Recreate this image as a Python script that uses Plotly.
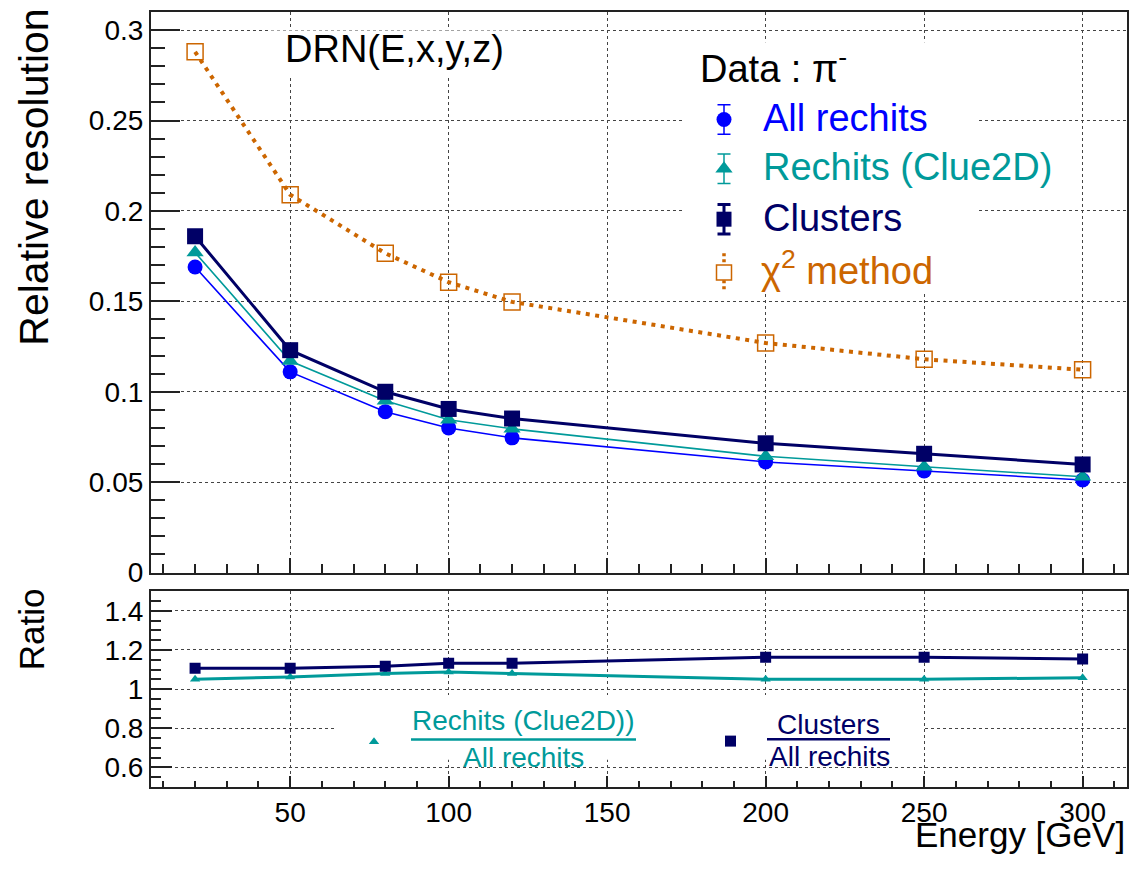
import plotly.graph_objects as go

# Beam energies [GeV]
energy = [20, 50, 80, 100, 120, 200, 250, 300]

# Relative energy resolution for pi- data
res_all_rechits = [0.169, 0.111, 0.089, 0.080, 0.0745, 0.0612, 0.0562, 0.0512]
res_clue2d = [0.177, 0.117, 0.095, 0.0845, 0.0795, 0.0643, 0.0585, 0.0530]
res_clusters = [0.186, 0.123, 0.100, 0.0905, 0.0852, 0.0715, 0.0657, 0.0598]
res_chi2 = [0.288, 0.209, 0.1766, 0.1606, 0.1497, 0.1270, 0.1180, 0.1122]

# Ratios with respect to "All rechits"
ratio_clue2d = [1.050, 1.062, 1.080, 1.087, 1.080, 1.050, 1.050, 1.058]
ratio_clusters = [1.107, 1.107, 1.117, 1.132, 1.132, 1.163, 1.163, 1.154]

FONT = "Liberation Sans, Arial, Helvetica, sans-serif"
BLUE = "#0000ff"
TEAL = "#009a9a"
NAVY = "#000066"
ORANGE = "#cc6600"
GRID = "#444444"
AXC = "#222222"

W, H = 1129, 870

# Pixel frame of the two pads
TOP = dict(l=150.7, r=1127.0, t=12.3, b=583.3)
RAT = dict(l=150.7, r=1127.0, t=602.3, b=801.7)


def xdom(p):
    return [p["l"] / W, p["r"] / W]


def ydom(p):
    return [1 - p["b"] / H, 1 - p["t"] / H]


fig = go.Figure()

# ---- resolution pad ----
fig.add_trace(go.Scatter(
    x=energy, y=res_chi2, mode="lines+markers", xaxis="x", yaxis="y",
    line=dict(color=ORANGE, width=4, dash="4px,5.5px"),
    marker=dict(symbol="square-open", size=16, color=ORANGE, line=dict(width=1.5, color=ORANGE)),
    showlegend=False,
))
fig.add_trace(go.Scatter(
    x=energy, y=res_all_rechits, mode="lines+markers", xaxis="x", yaxis="y",
    line=dict(color=BLUE, width=1.6),
    marker=dict(symbol="circle", size=15, color=BLUE),
    showlegend=False,
))
fig.add_trace(go.Scatter(
    x=energy, y=res_clue2d, mode="lines+markers", xaxis="x", yaxis="y",
    line=dict(color=TEAL, width=1.6),
    marker=dict(symbol="triangle-up", size=15, color=TEAL),
    showlegend=False,
))
fig.add_trace(go.Scatter(
    x=energy, y=res_clusters, mode="lines+markers", xaxis="x", yaxis="y",
    line=dict(color=NAVY, width=3),
    marker=dict(symbol="square", size=16, color=NAVY),
    showlegend=False,
))

# ---- ratio pad ----
fig.add_trace(go.Scatter(
    x=energy, y=ratio_clue2d, mode="lines+markers", xaxis="x2", yaxis="y2",
    line=dict(color=TEAL, width=3),
    marker=dict(symbol="triangle-up", size=9, color=TEAL),
    showlegend=False,
))
fig.add_trace(go.Scatter(
    x=energy, y=ratio_clusters, mode="lines+markers", xaxis="x2", yaxis="y2",
    line=dict(color=NAVY, width=3),
    marker=dict(symbol="square", size=11, color=NAVY),
    showlegend=False,
))

# ---- legend symbols, drawn on a pixel-coordinate overlay ----
LX = 724
legend_rows = [
    ("All rechits", BLUE, "circle", 15, 1.5, 121.7),
    ("Rechits (Clue2D)", TEAL, "triangle-up", 15, 1.5, 172.0),
    ("Clusters", NAVY, "square", 15, 3, 223.3),
]
for label, col, sym, size, thick, yy in legend_rows:
    fig.add_trace(go.Scatter(
        x=[LX], y=[yy], mode="markers", xaxis="x3", yaxis="y3",
        marker=dict(symbol=sym, size=size, color=col),
        error_y=dict(type="constant", value=15, color=col, thickness=thick, width=6.5),
        showlegend=False, hoverinfo="skip",
    ))
# chi2 entry: open square with dotted bars
fig.add_trace(go.Scatter(
    x=[LX, LX, None, LX, LX], y=[258, 270, None, 285.5, 297], mode="lines",
    xaxis="x3", yaxis="y3", line=dict(color=ORANGE, width=3.5, dash="3px,3px"),
    showlegend=False, hoverinfo="skip",
))
fig.add_trace(go.Scatter(
    x=[LX], y=[277.7], mode="markers", xaxis="x3", yaxis="y3",
    marker=dict(symbol="square-open", size=15, color=ORANGE, line=dict(width=1.5, color=ORANGE)),
    showlegend=False, hoverinfo="skip",
))
# ratio legend symbols
fig.add_trace(go.Scatter(
    x=[374], y=[755.7], mode="markers", xaxis="x3", yaxis="y3",
    marker=dict(symbol="triangle-up", size=9, color=TEAL),
    showlegend=False, hoverinfo="skip",
))
fig.add_trace(go.Scatter(
    x=[730.5], y=[755], mode="markers", xaxis="x3", yaxis="y3",
    marker=dict(symbol="square", size=11, color=NAVY),
    showlegend=False, hoverinfo="skip",
))

# white panes behind text boxes (hide gridlines)
shapes = []
for x0, y0, x1, y1 in [(270, 31, 520, 78), (685, 43, 979, 298), (337, 708, 922, 774)]:
    shapes.append(dict(type="rect", xref="x3", yref="y3", x0=x0, y0=y0, x1=x1, y1=y1,
                       fillcolor="white", line=dict(width=0), layer="below"))
# fraction bars
shapes.append(dict(type="line", xref="x3", yref="y3", x0=411, x1=636, y0=753.3, y1=753.3,
                   line=dict(color=TEAL, width=2.5)))
shapes.append(dict(type="line", xref="x3", yref="y3", x0=767, x1=890, y0=753, y1=753,
                   line=dict(color=NAVY, width=2.5)))


def txt(x, y, text, size, color="black", xanchor="center", angle=0):
    return dict(x=x, y=y, xref="x3", yref="y3", text=text, showarrow=False,
                xanchor=xanchor, yanchor="middle", textangle=angle,
                font=dict(family=FONT, size=size, color=color))


annotations = [
    txt(394.5, 50, "DRN(E,x,y,z)", 38),
    txt(698, 67, "Data : π<sup>-</sup>", 38, xanchor="left"),
    txt(761, 120, "All rechits", 38, BLUE, xanchor="left"),
    txt(761, 170.5, "Rechits (Clue2D)", 38, TEAL, xanchor="left"),
    txt(761, 222, "Clusters", 38, NAVY, xanchor="left"),
    txt(759, 273, "χ<sup>2</sup> method", 38, ORANGE, xanchor="left"),
    txt(523.5, 734, "Rechits (Clue2D))", 28, TEAL),
    txt(523.5, 772, "All rechits", 28, TEAL),
    txt(828.5, 738, "Clusters", 28, NAVY),
    txt(829, 771, "All rechits", 28, NAVY),
    txt(34, 181, "Relative resolution", 41, angle=-90),
    txt(31, 641, "Ratio", 35, angle=-90),
    txt(1127, 850, "Energy [GeV]", 35, xanchor="right"),
]

axis_common = dict(
    showline=True, mirror=True, linecolor=AXC, linewidth=1.5,
    ticks="inside", tickcolor=AXC, tickwidth=1.5,
    showgrid=True, gridcolor=GRID, griddash="dot", gridwidth=1,
    zeroline=False,
    tickfont=dict(family=FONT, size=28, color="black"),
)

fig.update_layout(
    width=W, height=H, autosize=False,
    margin=dict(l=0, r=0, t=0, b=0),
    paper_bgcolor="white", plot_bgcolor="rgba(0,0,0,0)",
    showlegend=False,
    shapes=shapes, annotations=annotations,
    xaxis=dict(axis_common, domain=xdom(TOP), anchor="y", range=[6, 314],
               tick0=0, dtick=50, ticklen=15, showticklabels=False,
               minor=dict(dtick=10, ticklen=9, ticks="inside", tickcolor=AXC, tickwidth=1.5)),
    yaxis=dict(axis_common, domain=ydom(TOP), anchor="x", range=[0, 0.31],
               tick0=0, dtick=0.05, ticklen=30,
               minor=dict(dtick=0.01, ticklen=15, ticks="inside", tickcolor=AXC, tickwidth=1.5)),
    xaxis2=dict(axis_common, domain=xdom(RAT), anchor="y2", range=[6, 314],
                tick0=0, dtick=50, ticklen=11,
                minor=dict(dtick=10, ticklen=6, ticks="inside", tickcolor=AXC, tickwidth=1.5)),
    yaxis2=dict(axis_common, domain=ydom(RAT), anchor="x2", range=[0.5, 1.5],
                tick0=0, dtick=0.2, ticklen=22,
                minor=dict(dtick=0.05, ticklen=11, ticks="inside", tickcolor=AXC, tickwidth=1.5)),
    xaxis3=dict(domain=[0, 1], anchor="y3", range=[0, W], visible=False, fixedrange=True),
    yaxis3=dict(domain=[0, 1], anchor="x3", range=[H, 0], visible=False, fixedrange=True),
)

fig.write_html("out.html")
